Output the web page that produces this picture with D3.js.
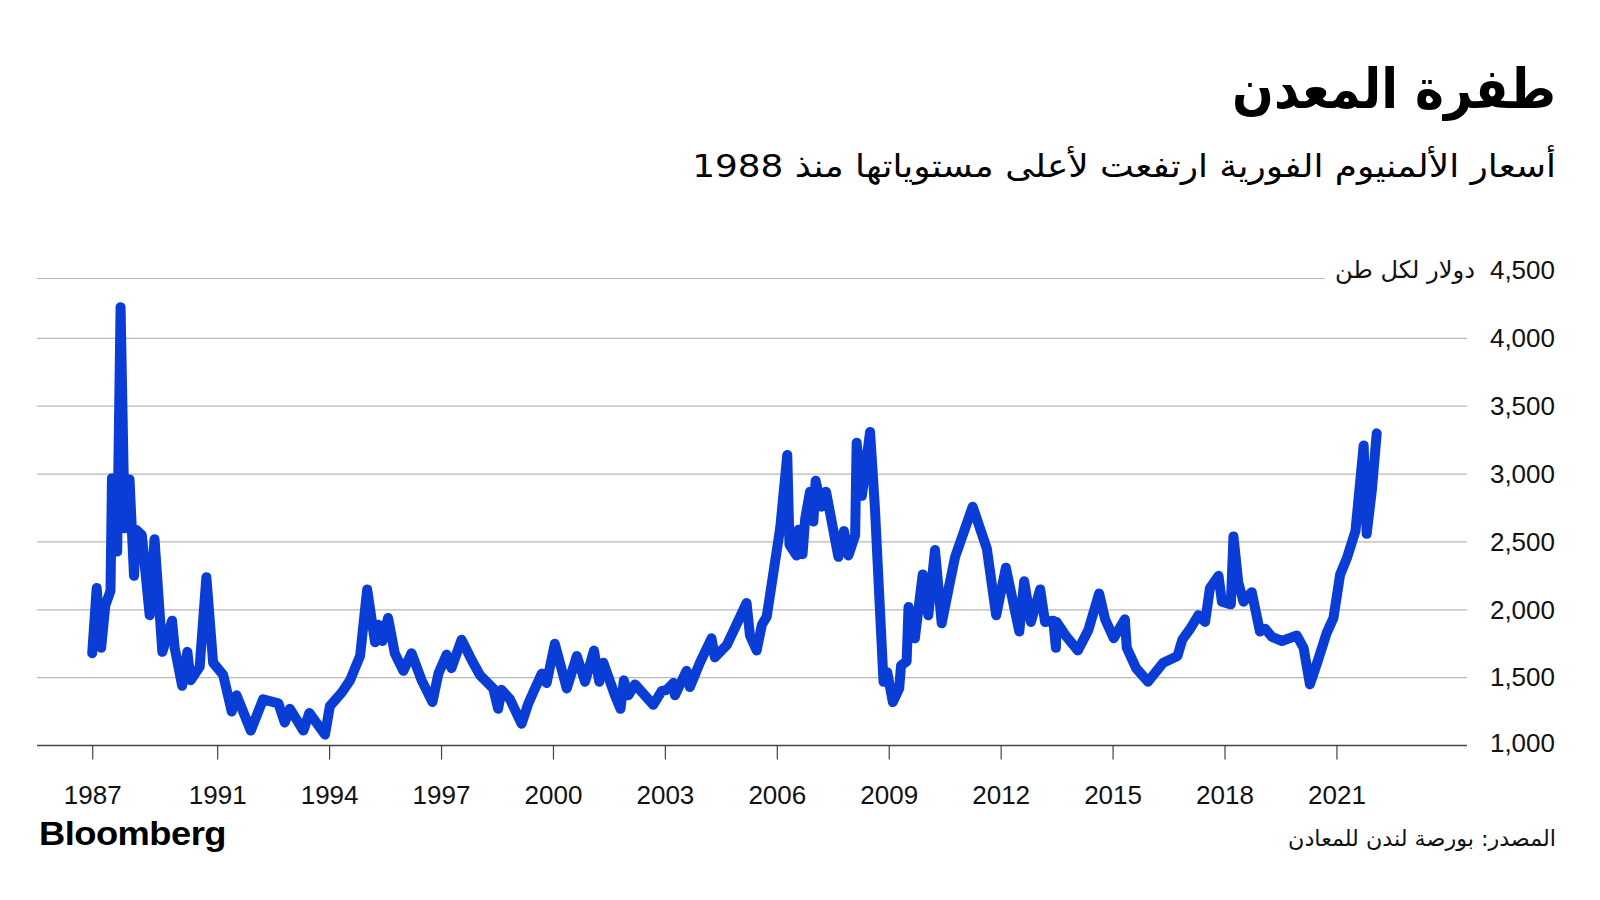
<!DOCTYPE html>
<html>
<head>
<meta charset="utf-8">
<script src="https://cdn.jsdelivr.net/npm/d3@7"></script>
<style>
  html, body { margin: 0; padding: 0; background: #ffffff; }
  svg { display: block; }
  .num { font-family: "Liberation Sans", Arial, Helvetica, sans-serif; }
  .ar { font-family: "DejaVu Sans", "Noto Sans", sans-serif; }
</style>
</head>
<body>
<svg id="chart" width="1600" height="900"></svg>
<script>
// ---------------- data ----------------
const titleText = "طفرة المعدن";
const subtitleText = "أسعار الألمنيوم الفورية ارتفعت لأعلى مستوياتها منذ 1988";
const unitText = "دولار لكل طن";
const sourceText = "المصدر: بورصة لندن للمعادن";
const brandText = "Bloomberg";

// decimal years (dates) of the LME spot aluminium series
const years = [
  1987.65, 1987.77, 1987.89, 1988.00, 1988.14, 1988.18, 1988.32, 1988.41, 1988.52, 1988.65,
  1988.77, 1988.83, 1988.98, 1989.19, 1989.32, 1989.53, 1989.79, 1989.86, 1990.06, 1990.20,
  1990.29, 1990.53, 1990.71, 1990.89, 1991.16, 1991.39, 1991.52, 1991.90, 1992.23, 1992.64,
  1992.81, 1992.95, 1993.31, 1993.47, 1993.89, 1994.02, 1994.34, 1994.56, 1994.83, 1995.02,
  1995.23, 1995.32, 1995.43, 1995.58, 1995.76, 1995.99, 1996.21, 1996.48, 1996.77, 1996.93,
  1997.15, 1997.28, 1997.55, 1997.82, 1998.04, 1998.40, 1998.53, 1998.62, 1998.85, 1999.16,
  1999.34, 1999.47, 1999.70, 1999.83, 2000.05, 2000.37, 2000.64, 2000.86, 2001.10, 2001.24,
  2001.35, 2001.66, 2001.81, 2001.90, 2002.02, 2002.20, 2002.69, 2002.91, 2003.05, 2003.23,
  2003.27, 2003.58, 2003.67, 2003.94, 2004.25, 2004.34, 2004.66, 2005.19, 2005.28, 2005.46,
  2005.60, 2005.73, 2006.09, 2006.28, 2006.34, 2006.53, 2006.58, 2006.69, 2006.76, 2006.89,
  2006.98, 2007.04, 2007.20, 2007.32, 2007.65, 2007.80, 2007.92, 2008.10, 2008.14, 2008.28,
  2008.50, 2008.63, 2008.86, 2008.96, 2009.11, 2009.28, 2009.33, 2009.48, 2009.53, 2009.70,
  2009.91, 2010.06, 2010.24, 2010.42, 2010.60, 2010.78, 2011.25, 2011.63, 2011.88, 2012.14,
  2012.50, 2012.63, 2012.81, 2013.06, 2013.19, 2013.41, 2013.48, 2013.50, 2013.77, 2014.07,
  2014.35, 2014.64, 2014.80, 2015.03, 2015.33, 2015.38, 2015.63, 2015.95, 2016.36, 2016.74,
  2016.87, 2017.08, 2017.30, 2017.48, 2017.61, 2017.84, 2017.93, 2018.17, 2018.24, 2018.37,
  2018.51, 2018.73, 2018.95, 2019.09, 2019.27, 2019.54, 2019.94, 2020.12, 2020.29, 2020.52,
  2020.74, 2020.92, 2021.10, 2021.28, 2021.51, 2021.73, 2021.81, 2021.95, 2022.08
];

// USD per tonne
const prices = [
  1680, 2160, 1720, 2030, 2140, 2970, 2430, 4230, 2600, 2960,
  2250, 2590, 2550, 1960, 2520, 1690, 1920, 1720, 1440, 1690,
  1480, 1580, 2240, 1610, 1520, 1250, 1370, 1110, 1340, 1310,
  1170, 1270, 1110, 1240, 1080, 1290, 1390, 1480, 1660, 2150,
  1760, 1890, 1770, 1940, 1680, 1550, 1680, 1480, 1320, 1530,
  1670, 1570, 1780, 1630, 1520, 1420, 1270, 1410, 1340, 1160,
  1310, 1390, 1530, 1460, 1750, 1420, 1660, 1470, 1700, 1470,
  1610, 1370, 1270, 1480, 1370, 1450, 1300, 1400, 1410, 1460,
  1370, 1550, 1430, 1610, 1790, 1650, 1740, 2050, 1810, 1700,
  1890, 1950, 2600, 3140, 2480, 2400, 2590, 2410, 2670, 2870,
  2650, 2950, 2760, 2870, 2390, 2580, 2400, 2550, 3230, 2840,
  3310, 2750, 1470, 1540, 1320, 1420, 1590, 1620, 2020, 1790,
  2260, 1960, 2440, 1900, 2150, 2390, 2760, 2450, 1960, 2310,
  1840, 2210, 1910, 2150, 1910, 1920, 1720, 1910, 1800, 1700,
  1850, 2120, 1930, 1790, 1930, 1720, 1570, 1470, 1610, 1660,
  1780, 1860, 1960, 1910, 2160, 2250, 2060, 2040, 2540, 2200,
  2060, 2130, 1840, 1860, 1800, 1770, 1810, 1720, 1450, 1640,
  1830, 1940, 2260, 2380, 2580, 3210, 2560, 2880, 3300
];

// axis ticks
const xTickValues = [years[0], 1991, 1994, 1997, 2000, 2003, 2006, 2009, 2012, 2015, 2018, 2021];
const xTickLabels = ["1987", "1991", "1994", "1997", "2000", "2003", "2006", "2009", "2012", "2015", "2018", "2021"];
const yTickValues = [1000, 1500, 2000, 2500, 3000, 3500, 4000, 4500];
const yTickLabels = ["1,000", "1,500", "2,000", "2,500", "3,000", "3,500", "4,000", "4,500"];

// ---------------- layout ----------------
const plotLeft = 37, plotRight = 1467, plotTop = 270.5, plotBottom = 745.5;
const labelRight = 1555;
const lineColor = "#0a3dd6";

const svg = d3.select("#chart");

const x = d3.scaleLinear().domain([1986.17, 2024.5]).range([plotLeft, plotRight]);
const y = d3.scaleLinear().domain([1000, 4500]).range([plotBottom, plotTop]);

function fitRight(sel, rightX, width) {
  const bb = sel.node().getBBox();
  const s = width / bb.width;
  const tx = rightX - s * (bb.x + bb.width);
  sel.attr("transform", `translate(${tx},0) scale(${s},1)`);
}
function fitLeft(sel, leftX, width) {
  const bb = sel.node().getBBox();
  const s = width / bb.width;
  const tx = leftX - s * bb.x;
  sel.attr("transform", `translate(${tx},0) scale(${s},1)`);
}

// ---------------- titles ----------------
const title = svg.append("text").attr("class", "ar")
  .attr("x", 0).attr("y", 108)
  .attr("font-size", 55).attr("font-weight", 700).attr("fill", "#000")
  .attr("direction", "rtl")
  .text(titleText);
fitRight(title, 1556, 324);

const subtitle = svg.append("text").attr("class", "ar")
  .attr("x", 0).attr("y", 177)
  .attr("font-size", 32).attr("fill", "#000")
  .attr("direction", "rtl")
  .text(subtitleText);
fitRight(subtitle, 1556, 864);

// ---------------- gridlines ----------------
const grid = svg.append("g");
grid.selectAll("line").data(yTickValues.filter(v => v !== 1000)).join("line")
  .attr("x1", plotLeft)
  .attr("x2", d => d === 4500 ? 1325 : plotRight)
  .attr("y1", d => d === 4500 ? y(d) + 8 : y(d))
  .attr("y2", d => d === 4500 ? y(d) + 8 : y(d))
  .attr("stroke", "#b8b8b8").attr("stroke-width", 1.2);

// ---------------- y axis labels ----------------
const yAxis = d3.axisRight(y).tickValues(yTickValues)
  .tickFormat((d, i) => yTickLabels[i]).tickSize(0).tickPadding(0);
const yg = svg.append("g").attr("transform", `translate(${labelRight},0)`).call(yAxis);
yg.select(".domain").remove();
yg.selectAll("text")
  .attr("class", "num")
  .attr("text-anchor", "end")
  .attr("font-size", 26)
  .attr("fill", "#111")
  .attr("dy", d => d === 1000 ? "0.22em" : "0.32em");

// unit label
const unit = svg.append("text").attr("class", "ar")
  .attr("x", 0).attr("y", y(4500) + 8)
  .attr("font-size", 24).attr("fill", "#111")
  .attr("direction", "rtl")
  .text(unitText);
fitRight(unit, 1475, 140);

// ---------------- x axis ----------------
const xAxis = d3.axisBottom(x).tickValues(xTickValues)
  .tickFormat((d, i) => xTickLabels[i]).tickSize(14).tickSizeOuter(0).tickPadding(26);
const xg = svg.append("g").attr("transform", `translate(0,${plotBottom})`).call(xAxis);
xg.select(".domain").attr("stroke", "#444").attr("stroke-width", 1.6)
  .attr("d", `M${plotLeft},0H${plotRight}`);
xg.selectAll(".tick line").attr("stroke", "#444").attr("stroke-width", 1.2);
xg.selectAll("text").attr("class", "num").attr("font-size", 26).attr("fill", "#111");

// ---------------- line ----------------
const series = years.map((yr, i) => ({ yr, v: prices[i] }));
const line = d3.line().x(d => x(d.yr)).y(d => y(d.v));
svg.append("path").datum(series)
  .attr("d", line)
  .attr("fill", "none")
  .attr("stroke", lineColor)
  .attr("stroke-width", 10)
  .attr("stroke-linejoin", "round")
  .attr("stroke-linecap", "round");

// ---------------- footer ----------------
const brand = svg.append("text").attr("class", "num")
  .attr("x", 0).attr("y", 845)
  .attr("font-size", 34).attr("font-weight", 700).attr("fill", "#000")
  .attr("letter-spacing", -0.5)
  .text(brandText);
fitLeft(brand, 39, 187);

const source = svg.append("text").attr("class", "ar")
  .attr("x", 0).attr("y", 846)
  .attr("font-size", 22).attr("fill", "#111")
  .attr("direction", "rtl")
  .text(sourceText);
fitRight(source, 1556, 268);
</script>
</body>
</html>
